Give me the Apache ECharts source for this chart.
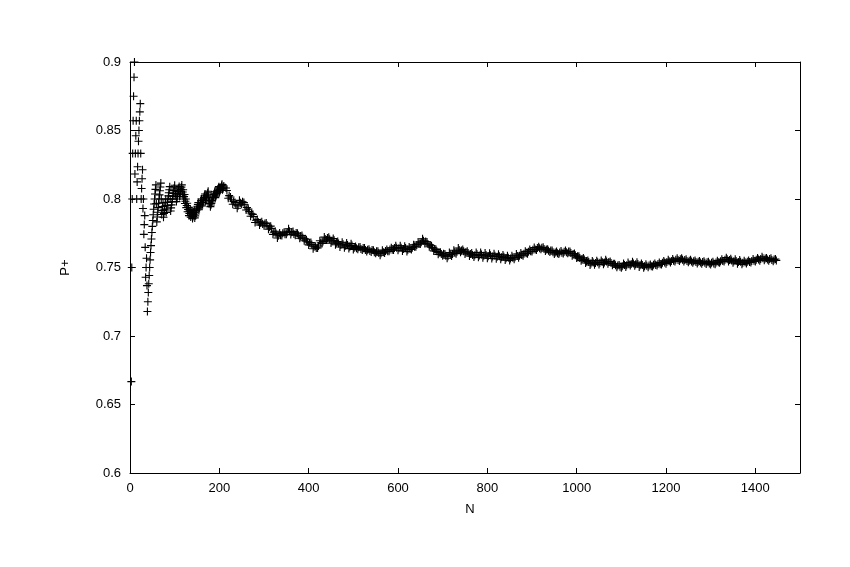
<!DOCTYPE html>
<html>
<head>
<meta charset="utf-8">
<script src="https://cdn.jsdelivr.net/npm/echarts@6/dist/echarts.min.js"></script>
<style>
html,body{margin:0;padding:0;background:#fff;}
#chart{width:850px;height:567px;}
</style>
</head>
<body>
<div id="chart"></div>
<script>
// Axis ranges / tick labels
const xRange = [0, 1500];
const xTickStep = 200;
const yRange = [0.6, 0.9];
const yTickStep = 0.05;
const xName = 'N';
const yName = 'P+';

// P+ for N = 1..210 (every N)
const earlyStartN = 1;
const earlyP = [
  1.0, 0.5, 0.6667, 0.75, 0.8, 0.8333, 0.8571, 0.875, 0.8889, 0.9,
  0.8182, 0.8333, 0.8462, 0.8571, 0.8, 0.8125, 0.8235, 0.8333, 0.8421, 0.85,
  0.8571, 0.8636, 0.8696, 0.8333, 0.8, 0.8077, 0.8148, 0.8214, 0.7931, 0.8,
  0.7742, 0.7813, 0.7879, 0.7647, 0.7429, 0.75, 0.7568, 0.7368, 0.7179, 0.725,
  0.7317, 0.7381, 0.7442, 0.75, 0.7556, 0.7609, 0.766, 0.7708, 0.7755, 0.78,
  0.7843, 0.7885, 0.7925, 0.7963, 0.8, 0.8036, 0.807, 0.8103, 0.7966, 0.7833,
  0.7869, 0.7903, 0.7937, 0.7969, 0.8, 0.803, 0.806, 0.8088, 0.8116, 0.8,
  0.7887, 0.7917, 0.7945, 0.7973, 0.7867, 0.7895, 0.7922, 0.7949, 0.7975, 0.8,
  0.7901, 0.7927, 0.7952, 0.7976, 0.8, 0.8023, 0.8046, 0.8068, 0.809, 0.8,
  0.7912, 0.7935, 0.7957, 0.7979, 0.8, 0.8021, 0.8041, 0.8061, 0.8081, 0.81,
  0.802, 0.8039, 0.8058, 0.7981, 0.8, 0.8019, 0.8037, 0.8056, 0.8073, 0.8091,
  0.8018, 0.8036, 0.8053, 0.807, 0.8087, 0.8103, 0.8034, 0.8051, 0.8067, 0.8,
  0.8017, 0.8033, 0.7967, 0.7984, 0.8, 0.7937, 0.7953, 0.7969, 0.7907, 0.7923,
  0.7939, 0.7879, 0.7895, 0.791, 0.7926, 0.7868, 0.7883, 0.7899, 0.7914, 0.7857,
  0.7872, 0.7887, 0.7902, 0.7917, 0.7862, 0.7877, 0.7891, 0.7905, 0.7919, 0.7933,
  0.7947, 0.7961, 0.7974, 0.7922, 0.7935, 0.7949, 0.7962, 0.7975, 0.7987, 0.8,
  0.795, 0.7963, 0.7975, 0.7988, 0.8, 0.8012, 0.8024, 0.8036, 0.7988, 0.8,
  0.8012, 0.8023, 0.8035, 0.8046, 0.8057, 0.8011, 0.7966, 0.7978, 0.7989, 0.7944,
  0.7956, 0.7967, 0.7978, 0.7989, 0.8, 0.8011, 0.8021, 0.8032, 0.8042, 0.8053,
  0.801, 0.8021, 0.8031, 0.8041, 0.8051, 0.8061, 0.8071, 0.8081, 0.809, 0.805,
  0.806, 0.8069, 0.8079, 0.8088, 0.8098, 0.8107, 0.8068, 0.8077, 0.8086, 0.8095
];

// P+ for N = 215..1445 (every 5th N) - sawtooth extremes
const lateStartN = 215;
const lateStepN = 5;
const lateP = [
  0.8080, 0.8005, 0.8015, 0.7962, 0.7975, 0.7932, 0.7990, 0.7962, 0.7975, 0.7920,
  0.7926, 0.7874, 0.7888, 0.7828, 0.7850, 0.7810, 0.7834, 0.7804, 0.7825, 0.7780,
  0.7802, 0.7742, 0.7765, 0.7715, 0.7752, 0.7734, 0.7758, 0.7742, 0.7782, 0.7740,
  0.7762, 0.7736, 0.7750, 0.7714, 0.7733, 0.7695, 0.7703, 0.7665, 0.7683, 0.7637,
  0.7656, 0.7643, 0.7695, 0.7676, 0.7722, 0.7700, 0.7720, 0.7678, 0.7712, 0.7666,
  0.7690, 0.7650, 0.7684, 0.7644, 0.7679, 0.7638, 0.7674, 0.7631, 0.7654, 0.7634,
  0.7649, 0.7628, 0.7642, 0.7616, 0.7634, 0.7614, 0.7626, 0.7604, 0.7619, 0.7590,
  0.7626, 0.7606, 0.7632, 0.7618, 0.7644, 0.7628, 0.7659, 0.7626, 0.7659, 0.7621,
  0.7656, 0.7616, 0.7650, 0.7631, 0.7666, 0.7651, 0.7686, 0.7671, 0.7709, 0.7676,
  0.7686, 0.7651, 0.7659, 0.7621, 0.7632, 0.7596, 0.7612, 0.7586, 0.7599, 0.7568,
  0.7609, 0.7584, 0.7626, 0.7601, 0.7642, 0.7611, 0.7632, 0.7598, 0.7619, 0.7584,
  0.7606, 0.7576, 0.7610, 0.7574, 0.7609, 0.7571, 0.7606, 0.7568, 0.7604, 0.7566,
  0.7600, 0.7564, 0.7596, 0.7560, 0.7592, 0.7554, 0.7586, 0.7552, 0.7586, 0.7561,
  0.7598, 0.7572, 0.7606, 0.7586, 0.7618, 0.7601, 0.7632, 0.7616, 0.7646, 0.7628,
  0.7652, 0.7633, 0.7647, 0.7620, 0.7634, 0.7613, 0.7624, 0.7598, 0.7616, 0.7598,
  0.7620, 0.7603, 0.7624, 0.7604, 0.7617, 0.7586, 0.7602, 0.7570, 0.7582, 0.7550,
  0.7570, 0.7533, 0.7552, 0.7518, 0.7548, 0.7520, 0.7550, 0.7522, 0.7552, 0.7524,
  0.7556, 0.7528, 0.7544, 0.7516, 0.7528, 0.7502, 0.7518, 0.7498, 0.7530, 0.7504,
  0.7536, 0.7514, 0.7542, 0.7512, 0.7538, 0.7504, 0.7530, 0.7498, 0.7524, 0.7502,
  0.7522, 0.7508, 0.7530, 0.7514, 0.7536, 0.7522, 0.7548, 0.7528, 0.7557, 0.7536,
  0.7562, 0.7544, 0.7567, 0.7548, 0.7568, 0.7543, 0.7560, 0.7538, 0.7556, 0.7534,
  0.7552, 0.7530, 0.7548, 0.7528, 0.7546, 0.7526, 0.7542, 0.7522, 0.7542, 0.7524,
  0.7550, 0.7534, 0.7560, 0.7544, 0.7572, 0.7543, 0.7564, 0.7534, 0.7560, 0.7528,
  0.7554, 0.7523, 0.7550, 0.7530, 0.7552, 0.7536, 0.7562, 0.7544, 0.7570, 0.7550,
  0.7579, 0.7553, 0.7570, 0.7550, 0.7567, 0.7546, 0.7562
];

// P+ for N = 217..1447 (every 5th N) - band centre
const midStartN = 217;
const midStepN = 5;
const midP = [
  0.8062, 0.8025, 0.7995, 0.7982, 0.7958, 0.795, 0.7972, 0.798, 0.7958, 0.7938,
  0.7908, 0.7892, 0.7872, 0.7845, 0.7832, 0.7827, 0.7818, 0.7822, 0.7808, 0.7796,
  0.7785, 0.7758, 0.7748, 0.7732, 0.7736, 0.775, 0.7742, 0.7758, 0.7765, 0.7757,
  0.7745, 0.7752, 0.7735, 0.773, 0.7717, 0.771, 0.7688, 0.768, 0.7668, 0.7652,
  0.7642, 0.7657, 0.768, 0.769, 0.7708, 0.7715, 0.7706, 0.7692, 0.7698, 0.768,
  0.7675, 0.7664, 0.767, 0.7658, 0.7665, 0.7652, 0.766, 0.7645, 0.764, 0.7648,
  0.7635, 0.7642, 0.7628, 0.763, 0.762, 0.7628, 0.7612, 0.7618, 0.7605, 0.7604,
  0.7612, 0.762, 0.7618, 0.7632, 0.763, 0.7642, 0.7645, 0.764, 0.7645, 0.7635,
  0.7642, 0.763, 0.7636, 0.7645, 0.7652, 0.7665, 0.7672, 0.7685, 0.7695, 0.769,
  0.7672, 0.7665, 0.7645, 0.7635, 0.7618, 0.761, 0.7598, 0.76, 0.7585, 0.7582,
  0.7595, 0.7598, 0.7612, 0.7615, 0.7628, 0.7625, 0.7618, 0.7612, 0.7605, 0.7598,
  0.7592, 0.759, 0.7596, 0.7588, 0.7595, 0.7585, 0.7592, 0.7582, 0.759, 0.758,
  0.7586, 0.7578, 0.7582, 0.7574, 0.7578, 0.7568, 0.7572, 0.7566, 0.7572, 0.7575,
  0.7584, 0.7586, 0.7592, 0.76, 0.7604, 0.7615, 0.7618, 0.763, 0.7632, 0.7642,
  0.764, 0.7645, 0.7635, 0.7632, 0.7622, 0.7625, 0.7612, 0.761, 0.7604, 0.761,
  0.7608, 0.7615, 0.7612, 0.7616, 0.7605, 0.7598, 0.759, 0.7582, 0.757, 0.7562,
  0.7558, 0.7545, 0.754, 0.753, 0.7536, 0.7532, 0.7538, 0.7534, 0.754, 0.7536,
  0.7544, 0.754, 0.7532, 0.7528, 0.7516, 0.7514, 0.7506, 0.751, 0.7518, 0.7516,
  0.7524, 0.7526, 0.753, 0.7524, 0.7526, 0.7516, 0.7518, 0.751, 0.7512, 0.7514,
  0.751, 0.752, 0.7518, 0.7526, 0.7524, 0.7534, 0.7536, 0.754, 0.7545, 0.7548,
  0.755, 0.7556, 0.7555, 0.756, 0.7556, 0.7555, 0.7548, 0.755, 0.7544, 0.7546,
  0.754, 0.7542, 0.7536, 0.754, 0.7534, 0.7538, 0.753, 0.7534, 0.753, 0.7536,
  0.7538, 0.7546, 0.7548, 0.7556, 0.756, 0.7555, 0.7552, 0.7546, 0.7548, 0.754,
  0.7542, 0.7535, 0.7538, 0.7542, 0.754, 0.7548, 0.755, 0.7556, 0.7558, 0.7562,
  0.7567, 0.7565, 0.7558, 0.7562, 0.7555, 0.7558, 0.7552
];

const points = [];
earlyP.forEach((p, i) => points.push([earlyStartN + i, p]));
lateP.forEach((p, i) => points.push([lateStartN + i * lateStepN, p]));
midP.forEach((p, i) => points.push([midStartN + i * midStepN, p]));

const FONT = 'Liberation Sans';
const labelStyle = { color: '#000', fontFamily: FONT, fontSize: 13 };
const lineStyle = { color: '#000', width: 1 };

const chart = echarts.init(document.getElementById('chart'), null, { renderer: 'canvas' });
chart.setOption({
  animation: false,
  backgroundColor: '#fff',
  grid: { left: 130, right: 50, top: 62, bottom: 94, show: false },
  xAxis: [
    {
      type: 'value', min: xRange[0], max: xRange[1], interval: xTickStep,
      position: 'bottom',
      name: xName, nameLocation: 'middle', nameGap: 30,
      nameTextStyle: { color: '#000', fontFamily: FONT, fontSize: 13, padding: [0, 0, 0, 10] },
      axisLine: { show: true, onZero: false, lineStyle: lineStyle },
      axisTick: { show: true, inside: true, length: 5, lineStyle: lineStyle },
      axisLabel: Object.assign({ margin: 9, formatter: v => (v > 1400 ? '' : String(v)) }, labelStyle),
      splitLine: { show: false }
    },
    {
      type: 'value', min: xRange[0], max: xRange[1], interval: xTickStep,
      position: 'top',
      axisLine: { show: true, onZero: false, lineStyle: lineStyle },
      axisTick: { show: true, inside: true, length: 5, lineStyle: lineStyle },
      axisLabel: { show: false },
      splitLine: { show: false }
    }
  ],
  yAxis: [
    {
      type: 'value', min: yRange[0], max: yRange[1], interval: yTickStep,
      position: 'left',
      name: yName, nameLocation: 'middle', nameGap: 58, nameRotate: 90,
      nameTextStyle: { color: '#000', fontFamily: FONT, fontSize: 13 },
      axisLine: { show: true, onZero: false, lineStyle: lineStyle },
      axisTick: { show: true, inside: true, length: 5, lineStyle: lineStyle },
      axisLabel: Object.assign({ margin: 9, formatter: v => String(+v.toFixed(2)) }, labelStyle),
      splitLine: { show: false }
    },
    {
      type: 'value', min: yRange[0], max: yRange[1], interval: yTickStep,
      position: 'right',
      axisLine: { show: true, onZero: false, lineStyle: lineStyle },
      axisTick: { show: true, inside: true, length: 5, lineStyle: lineStyle },
      axisLabel: { show: false },
      splitLine: { show: false }
    }
  ],
  series: [{
    type: 'scatter',
    xAxisIndex: 0, yAxisIndex: 0,
    data: points,
    symbol: 'path://M0,5L10,5M5,0L5,10',
    symbolSize: 8,
    clip: true,
    itemStyle: { color: '#000', borderColor: '#000', borderWidth: 1.1, opacity: 1 },
    emphasis: { disabled: true }
  }]
});
</script>
</body>
</html>
